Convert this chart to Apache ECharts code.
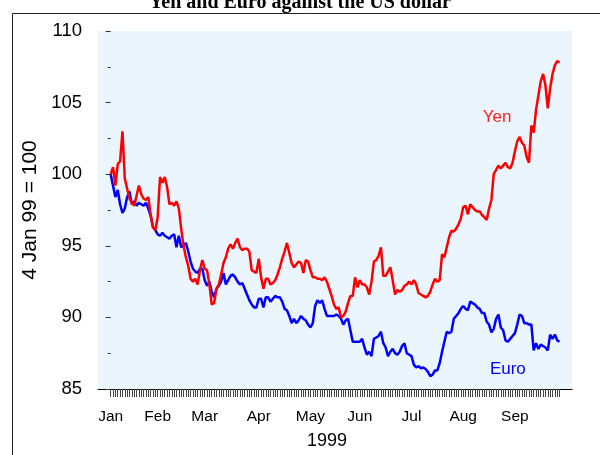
<!DOCTYPE html>
<html>
<head>
<meta charset="utf-8">
<script src="https://cdn.jsdelivr.net/npm/echarts@6/dist/echarts.min.js"></script>
<style>
  html, body { margin: 0; padding: 0; background: #fff; }
  #chart { width: 600px; height: 455px; }
</style>
</head>
<body>
<div id="chart"></div>
<script>
// trading-day index 0 = 4 Jan 1999, values rebased to 100
const yen = [
  100.0, 100.5, 99.2, 100.7, 100.9, 103.0, 99.7, 99.0, 98.3, 98.0,
  97.8, 98.5, 99.2, 98.6, 98.3, 98.2, 98.4, 97.2, 96.3, 96.1,
  97.0, 99.8, 99.4, 99.8, 99.1, 97.9, 98.0, 97.8, 98.1, 97.6,
  96.2, 95.0, 94.2, 93.6, 92.7, 92.5, 92.7, 92.3, 93.3, 94.0,
  93.4, 93.3, 92.3, 90.9, 91.0, 92.0, 92.3, 93.0, 93.8, 94.2,
  94.8, 95.1, 94.8, 95.2, 95.5, 94.9, 94.7, 94.8, 94.8, 94.6,
  93.3, 93.2, 93.1, 94.1, 92.8, 92.0, 92.7, 92.7, 92.3, 92.4,
  92.6, 93.0, 93.5, 94.1, 94.6, 95.2, 94.5, 93.8, 93.5, 93.7,
  93.9, 93.8, 93.1, 94.0, 93.9, 93.3, 92.8, 92.8, 92.7, 92.7,
  92.6, 92.8, 92.5, 92.0, 91.5, 90.9, 90.6, 90.7, 90.0, 90.1,
  90.4, 91.0, 91.5, 91.5, 92.8, 92.1, 92.6, 92.3, 92.3, 92.1,
  91.6, 92.5, 93.9, 94.0, 94.3, 94.9, 92.9, 92.9, 93.2, 93.5,
  92.6, 91.6, 91.9, 91.8, 91.9, 92.2, 92.3, 92.5, 92.3, 92.6,
  92.3, 91.7, 91.6, 91.5, 91.4, 91.5, 91.8, 92.3, 92.7, 92.5,
  92.6, 94.4, 94.2, 94.9, 95.6, 96.05, 96.0, 96.2, 96.5, 96.9,
  97.7, 97.8, 97.2, 97.9, 97.7, 97.5, 97.4, 97.4, 97.15, 97.0,
  96.8, 97.6, 98.2, 100.0, 100.3, 100.6, 100.4, 100.6, 100.8, 100.5,
  100.4, 100.8, 101.6, 102.3, 102.6, 102.2, 102.0, 101.2, 100.8, 103.4,
  102.9, 104.5, 105.5, 106.5, 107.0, 106.2, 104.6, 106.0, 107.0, 107.6,
  107.9, 107.8
]
const euro = [
  100.0, 99.2, 98.4, 98.9, 97.9, 97.3, 97.6, 98.4, 98.8, 97.9,
  98.1, 97.8, 98.0, 97.9, 97.8, 98.0, 97.6, 97.1, 96.3, 96.1,
  95.8, 95.7, 95.9, 95.7, 95.6, 95.5, 95.7, 95.8, 94.9, 95.7,
  94.9, 95.0, 95.2, 94.6, 93.9, 93.4, 93.2, 93.1, 93.4, 93.4,
  92.6, 92.2, 92.5, 91.8, 91.4, 92.0, 92.2, 92.5, 93.1, 92.3,
  92.6, 92.9, 93.0, 92.8, 92.5, 92.3, 92.4, 92.0, 91.6, 91.2,
  90.9, 90.7, 90.7, 91.3, 91.3, 90.7, 91.4, 91.4, 91.1, 91.3,
  91.5, 91.4, 91.4, 91.1, 90.6, 90.5, 90.1, 89.6, 89.9, 89.6,
  89.8, 90.1, 89.9, 89.8, 89.5, 89.3, 89.6, 90.8, 91.2, 91.0,
  91.2, 90.6, 90.1, 90.1, 90.1, 90.1, 90.2, 90.1, 89.9, 89.5,
  89.8, 89.9, 89.1, 88.3, 88.3, 88.3, 88.3, 88.5, 87.9, 87.4,
  87.6, 87.3, 88.5, 88.6, 88.7, 89.0, 88.2, 87.9, 87.3, 87.6,
  87.8, 87.5, 87.4, 87.6, 88.0, 88.2, 87.5, 87.4, 87.3, 86.7,
  86.5, 86.6, 86.45, 86.5, 86.4, 86.2, 85.9, 86.0, 86.3, 86.3,
  86.8, 87.6, 88.3, 89.0, 88.9, 89.0, 89.9, 90.1, 90.3, 90.6,
  90.8, 90.6, 90.5, 91.1, 91.0, 90.9, 90.7, 90.6, 90.3, 90.3,
  89.7, 89.5, 88.95, 89.2, 89.9, 90.2, 89.3, 89.1, 88.4, 88.3,
  88.5, 88.7, 88.9, 89.5, 90.2, 90.1, 89.6, 89.6, 89.5, 89.5,
  87.7, 88.2, 87.8, 88.1, 88.0, 87.9, 87.7, 88.8, 88.5, 88.8,
  88.4, 88.3
]
// first trading day of each month, as index into the series
const monthIdx = [0, 20, 40, 63, 85, 106, 128, 150, 172]
const monthNames = ['Jan', 'Feb', 'Mar', 'Apr', 'May', 'Jun', 'Jul', 'Aug', 'Sep']
const yTicks = [85, 90, 95, 100, 105, 110]

const dayIdx = yen.map(function (v, i) { return i })
const sans = 'Liberation Sans, Arial, sans-serif'

const chart = echarts.init(document.getElementById('chart'))
const option = {
  animation: false,
  backgroundColor: '#fff',
  title: {
    text: 'Yen and Euro against the US dollar',
    left: 'center',
    top: -12,
    textStyle: { fontFamily: 'Liberation Serif', fontWeight: 'bold', fontSize: 20, color: '#000' },
  },
  grid: {
    left: 98, right: 28, top: 31, bottom: 66,
    show: true, backgroundColor: '#ebf5fe', borderWidth: 0,
  },
  xAxis: {
    type: 'value',
    min: -5.4,
    max: 196.3,
    splitLine: { show: false },
    axisLine: { show: true, lineStyle: { color: '#000', width: 1 } },
    axisTick: { show: true, length: 8, customValues: dayIdx, lineStyle: { color: '#444', width: 1 } },
    axisLabel: {
      customValues: monthIdx,
      formatter: function (v) { return monthNames[monthIdx.indexOf(v)] },
      margin: 20, fontSize: 15.5, fontFamily: sans, color: '#000',
    },
    name: '1999',
    nameLocation: 'middle',
    nameGap: 43,
    nameTextStyle: { fontSize: 18, fontFamily: sans, color: '#000', padding: [0, 16, 0, 0] },
  },
  yAxis: {
    type: 'value',
    min: yTicks[0],
    max: yTicks[yTicks.length - 1],
    interval: 5,
    splitLine: { show: false },
    axisLine: { show: false },
    axisTick: { show: true, length: 5, lineStyle: { color: '#333' } },
    minorTick: { show: true, splitNumber: 2, length: 3, lineStyle: { color: '#333' } },
    axisLabel: { margin: 16, fontSize: 18.5, fontFamily: sans, color: '#000' },
    name: '4 Jan 99 = 100',
    nameLocation: 'middle',
    nameRotate: 90,
    nameGap: 56,
    nameTextStyle: { fontSize: 21, fontFamily: sans, color: '#000' },
  },
  graphic: [
    {
      type: 'rect',
      shape: { x: 12.5, y: 13.5, width: 700, height: 600 },
      style: { fill: 'none', stroke: '#222', lineWidth: 1 },
      silent: true,
    },
  ],
  series: [
    {
      name: 'Euro',
      type: 'line',
      showSymbol: false,
      lineStyle: { color: '#0000ff', width: 2.5 },
      itemStyle: { color: '#0000ff' },
      data: euro.map(function (v, i) { return [i, v] }),
      markPoint: {
        symbolSize: 0,
        label: { show: true, position: 'inside', formatter: 'Euro', color: '#0000ff', fontSize: 17, fontFamily: sans },
        data: [{ coord: [169, 86.4] }],
      },
    },
    {
      name: 'Yen',
      type: 'line',
      showSymbol: false,
      lineStyle: { color: '#ff0000', width: 2.5 },
      itemStyle: { color: '#ff0000' },
      data: yen.map(function (v, i) { return [i, v] }),
      markPoint: {
        symbolSize: 0,
        label: { show: true, position: 'inside', formatter: 'Yen', color: '#ff2020', fontSize: 17, fontFamily: sans },
        data: [{ coord: [164.4, 104.0] }],
      },
    },
  ],
}
chart.setOption(option)
</script>
</body>
</html>
